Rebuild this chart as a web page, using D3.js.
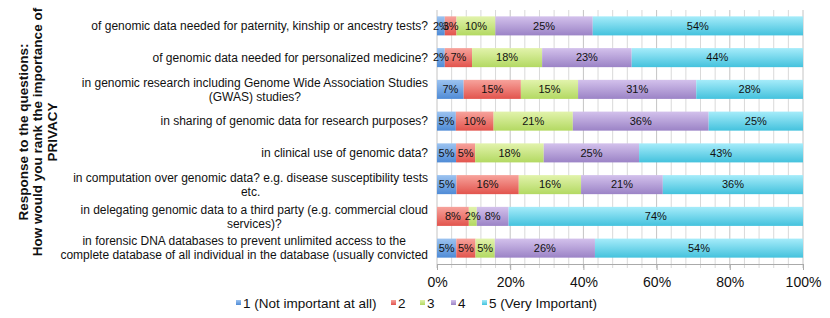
<!DOCTYPE html>
<html>
<head>
<meta charset="utf-8">
<script src="https://cdn.jsdelivr.net/npm/d3@7"></script>
<style>
  body { margin: 0; background: #fff; }
  text { font-family: "Liberation Sans", Arial, sans-serif; fill: #111; }
</style>
</head>
<body>
<div class="vis-container"></div>
<script>
// questions, top to bottom (wrapped lines as in the original)
const questions = [
  ['of genomic data needed for paternity, kinship or ancestry tests?'],
  ['of genomic data needed for personalized medicine?'],
  ['in genomic research including Genome Wide Association Studies', '(GWAS) studies?'],
  ['in sharing of genomic data for research purposes?'],
  ['in clinical use of genomic data?'],
  ['in computation over genomic data? e.g. disease susceptibility tests', 'etc.'],
  ['in delegating genomic data to a third party (e.g. commercial cloud', 'services)?'],
  ['in forensic DNA databases to prevent unlimited access to the', 'complete database of all individual in the database (usually convicted']
];
const seriesNames = ['1 (Not important at all)', '2', '3', '4', '5 (Very Important)'];
const level1 = [2, 2, 7, 5, 5, 5, 0, 5];
const level2 = [3, 7, 15, 10, 5, 16, 8, 5];
const level3 = [10, 18, 15, 21, 18, 16, 2, 5];
const level4 = [25, 23, 31, 36, 25, 21, 8, 26];
const level5 = [54, 44, 28, 25, 43, 36, 74, 54];
const xTicks = [0, 20, 40, 60, 80, 100];

const seriesColors = [
  ['#9cc3f0', '#4f8bd6'],
  ['#f7a39c', '#e2544d'],
  ['#e2f3ac', '#b3d962'],
  ['#d3c1ec', '#9b83c6'],
  ['#a6ecfa', '#44c2dd']
];

buildChart();

function buildChart() {
  const width = 830;
  const height = 318;
  const margin = {left: 437, right: 27, top: 10, bottom: 54};
  const svg = d3.select('.vis-container').append('svg')
    .attr('width', width)
    .attr('height', height);

  const defs = svg.append('defs');
  seriesColors.forEach((c, i) => {
    const g = defs.append('linearGradient')
      .attr('id', 'grad' + i)
      .attr('x1', 0).attr('x2', 0).attr('y1', 0).attr('y2', 1);
    g.append('stop').attr('offset', '0%').attr('stop-color', c[0]);
    g.append('stop').attr('offset', '100%').attr('stop-color', c[1]);
  });

  const rows = questions.map((q, i) => ({
    q: q,
    vals: [level1[i], level2[i], level3[i], level4[i], level5[i]]
  }));

  const x = d3.scaleLinear().domain([0, 100]).range([margin.left, width - margin.right]);
  const y = d3.scaleBand().domain(d3.range(rows.length))
    .range([margin.top, height - margin.bottom])
    .paddingInner(0.4).paddingOuter(0.2);

  // grid lines every 4%
  const grid = d3.range(0, 101, 4);
  svg.selectAll('.grid').data(grid)
    .enter().append('line')
      .attr('class', 'grid')
      .attr('x1', d => x(d)).attr('x2', d => x(d))
      .attr('y1', margin.top).attr('y2', height - margin.bottom + 4)
      .attr('stroke', d => d % 20 === 0 ? '#c4c4c4' : '#d9d9d9')
      .attr('stroke-width', 1);

  // bottom axis
  const axis = svg.append('g')
    .attr('transform', `translate(0, ${height - margin.bottom})`)
    .call(d3.axisBottom(x).tickValues(xTicks).tickFormat(d => d + '%').tickSize(6).tickPadding(7));
  axis.select('.domain').attr('stroke', '#aaa');
  axis.selectAll('.tick line').attr('stroke', '#aaa');
  axis.selectAll('.tick text')
    .attr('font-size', 14)
    .attr('font-family', '"Liberation Sans", Arial, sans-serif')
    .attr('fill', '#111');

  // stacked bars (normalised to 100%)
  rows.forEach((r, i) => {
    const total = d3.sum(r.vals);
    let acc = 0;
    const segs = r.vals.map((v, k) => {
      const s = {k: k, v: v, x0: acc / total * 100, x1: (acc + v) / total * 100};
      acc += v;
      return s;
    });
    const g = svg.append('g').attr('class', 'row');
    g.selectAll('rect').data(segs.filter(s => s.v > 0))
      .enter().append('rect')
        .attr('x', s => x(s.x0))
        .attr('width', s => x(s.x1) - x(s.x0))
        .attr('y', y(i))
        .attr('height', y.bandwidth())
        .attr('fill', s => `url(#grad${s.k})`);
    g.selectAll('text').data(segs.filter(s => s.v > 0))
      .enter().append('text')
        .attr('x', s => (x(s.x0) + x(s.x1)) / 2)
        .attr('y', y(i) + y.bandwidth() / 2)
        .attr('dy', '0.35em')
        .attr('text-anchor', 'middle')
        .attr('font-size', 11)
        .text(s => s.v + '%');
  });

  // category labels
  const labelRight = margin.left - 9;
  rows.forEach((r, i) => {
    const cy = y(i) + y.bandwidth() / 2;
    const lineH = 14;
    const g = svg.append('g');
    const texts = r.q.map((line, j) => g.append('text')
      .attr('font-size', 12)
      .attr('y', cy + (j - (r.q.length - 1) / 2) * lineH)
      .attr('dy', '0.35em')
      .text(line));
    if (r.q.length === 1) {
      texts[0].attr('x', labelRight).attr('text-anchor', 'end');
    } else {
      const maxW = d3.max(texts, t => t.node().getComputedTextLength());
      texts.forEach(t => t.attr('x', labelRight - maxW / 2).attr('text-anchor', 'middle'));
    }
  });

  // y title
  const titleLines = ['Response to the questions:', 'How would you rank the importance of', 'PRIVACY'];
  const title = svg.append('g').attr('transform', 'translate(23, 132) rotate(-90)');
  titleLines.forEach((t, j) => {
    title.append('text')
      .attr('x', 0)
      .attr('y', j * 14.5)
      .attr('dy', '0.35em')
      .attr('text-anchor', 'middle')
      .attr('font-size', 13.5)
      .attr('font-weight', 'bold')
      .text(t);
  });

  // legend
  const legendX = [236, 391, 420, 451, 482];
  const legend = svg.append('g').attr('transform', 'translate(0, 303)');
  seriesNames.forEach((name, k) => {
    legend.append('rect')
      .attr('x', legendX[k]).attr('y', -3)
      .attr('width', 5).attr('height', 5)
      .attr('fill', `url(#grad${k})`);
    legend.append('text')
      .attr('x', legendX[k] + 7).attr('y', 0)
      .attr('dy', '0.35em')
      .attr('font-size', 13.5)
      .text(name);
  });
}
</script>
</body>
</html>
